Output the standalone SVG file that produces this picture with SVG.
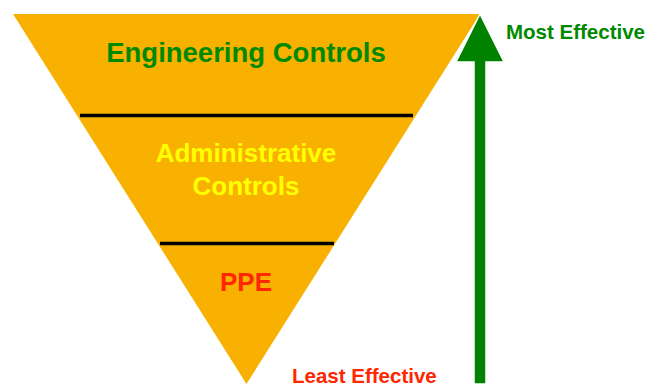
<svg xmlns="http://www.w3.org/2000/svg" width="662" height="386" viewBox="0 0 662 386">
  <style>
    .lbl { font-family: "Liberation Sans", Arial, sans-serif; font-weight: bold; text-anchor: middle; }
    .side { font-family: "Liberation Sans", Arial, sans-serif; font-weight: bold; font-size: 20.5px; }
    .divider { stroke: #000000; stroke-width: 3.5; }
  </style>
  <rect width="662" height="386" fill="#ffffff"/>
  <g id="pyramid">
    <polygon points="13,14 480,14 246.5,384" fill="#F8B100"/>
  </g>
  <g id="engineering">
    <text class="lbl" x="246" y="62" font-size="27.5" fill="#008A00">Engineering Controls</text>
  </g>
  <g id="administrative">
    <text class="lbl" x="246" y="162" font-size="26" fill="#FFFF00">Administrative</text>
    <text class="lbl" x="246" y="195" font-size="26" fill="#FFFF00">Controls</text>
  </g>
  <g id="ppe">
    <text class="lbl" x="246" y="291" font-size="26" fill="#FF2600">PPE</text>
  </g>
  <g id="connectors">
    <line class="divider" x1="80" y1="115.5" x2="413" y2="115.5"/>
    <line class="divider" x1="160" y1="243.5" x2="334" y2="243.5"/>
    <polygon points="480,14 504,62 486,62 486,384 474,384 474,62 456,62" fill="#008200" stroke="#ffffff" stroke-width="1.5" stroke-linejoin="miter"/>
  </g>
  <g id="labels">
    <text class="side" x="506" y="39" fill="#008A00">Most Effective</text>
    <text class="side" x="292" y="383" fill="#FF2600">Least Effective</text>
  </g>
</svg>
